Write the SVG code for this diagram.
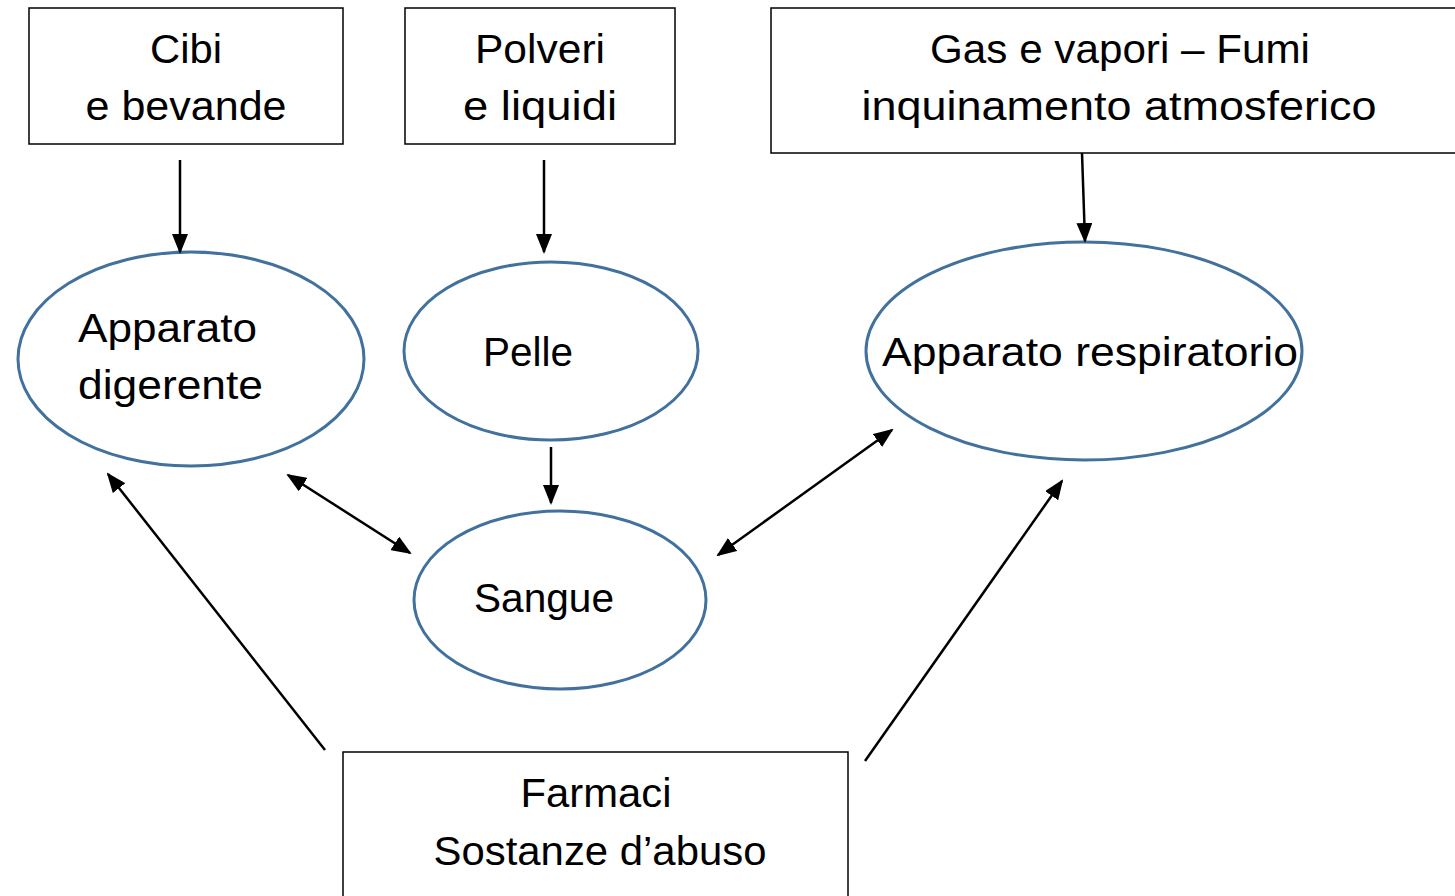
<svg xmlns="http://www.w3.org/2000/svg" width="1455" height="896" viewBox="0 0 1455 896">
<style>
.box{fill:#fff;stroke:#000;stroke-width:1.5}
.ell{fill:#fff;stroke:#41719C;stroke-width:3}
.t{font-family:"Liberation Sans",Arial,sans-serif;font-size:40px;fill:#000}
.c{text-anchor:middle}
.ln{stroke:#000;stroke-width:2.5;fill:none}
</style>
<defs>
<marker id="ah" markerUnits="userSpaceOnUse" markerWidth="20" markerHeight="16" refX="18" refY="8" orient="auto-start-reverse" viewBox="0 0 20 16">
<path d="M0,0 L20,8 L0,16 Z" fill="#000"/>
</marker>
</defs>
<rect width="1455" height="896" fill="#fff"/>
<g id="n-cibi">
<rect class="box" x="29" y="8" width="314" height="136"/>
<text class="t c" x="186" y="63" textLength="72" lengthAdjust="spacingAndGlyphs">Cibi</text>
<text class="t c" x="186" y="120" textLength="201" lengthAdjust="spacingAndGlyphs">e bevande</text>
</g>
<g id="n-polveri">
<rect class="box" x="405" y="8" width="270" height="136"/>
<text class="t c" x="540" y="63" textLength="130" lengthAdjust="spacingAndGlyphs">Polveri</text>
<text class="t c" x="540" y="120" textLength="154" lengthAdjust="spacingAndGlyphs">e liquidi</text>
</g>
<g id="n-gas">
<rect class="box" x="771" y="8" width="690" height="145"/>
<text class="t c" x="1120" y="63" textLength="380" lengthAdjust="spacingAndGlyphs">Gas e vapori – Fumi</text>
<text class="t c" x="1119" y="120" textLength="515" lengthAdjust="spacingAndGlyphs">inquinamento atmosferico</text>
</g>
<g id="n-digerente">
<ellipse class="ell" cx="191" cy="359" rx="173" ry="107"/>
<text class="t" x="78" y="342" textLength="179" lengthAdjust="spacingAndGlyphs">Apparato</text>
<text class="t" x="78" y="399" textLength="185" lengthAdjust="spacingAndGlyphs">digerente</text>
</g>
<g id="n-pelle">
<ellipse class="ell" cx="551" cy="351" rx="147" ry="89"/>
<text class="t" x="483" y="366" textLength="90" lengthAdjust="spacingAndGlyphs">Pelle</text>
</g>
<g id="n-respiratorio">
<ellipse class="ell" cx="1084" cy="351" rx="218" ry="109"/>
<text class="t" x="882" y="366" textLength="416" lengthAdjust="spacingAndGlyphs">Apparato respiratorio</text>
</g>
<g id="n-sangue">
<ellipse class="ell" cx="560" cy="600" rx="146" ry="89"/>
<text class="t" x="474" y="612" textLength="140" lengthAdjust="spacingAndGlyphs">Sangue</text>
</g>
<g id="n-farmaci">
<rect class="box" x="343" y="752" width="505" height="160"/>
<text class="t c" x="596" y="807" textLength="151" lengthAdjust="spacingAndGlyphs">Farmaci</text>
<text class="t c" x="600" y="865" textLength="333" lengthAdjust="spacingAndGlyphs">Sostanze d’abuso</text>
</g>
<g id="connectors">
<line class="ln" x1="180" y1="160" x2="180" y2="252" marker-end="url(#ah)"/>
<line class="ln" x1="544" y1="160" x2="544" y2="252" marker-end="url(#ah)"/>
<line class="ln" x1="1082" y1="153" x2="1085" y2="241" marker-end="url(#ah)"/>
<line class="ln" x1="551" y1="447" x2="551" y2="503" marker-end="url(#ah)"/>
<line class="ln" x1="288" y1="475" x2="410" y2="553" marker-start="url(#ah)" marker-end="url(#ah)"/>
<line class="ln" x1="892" y1="430" x2="718" y2="555" marker-start="url(#ah)" marker-end="url(#ah)"/>
<line class="ln" x1="325" y1="750" x2="108" y2="474" marker-end="url(#ah)"/>
<line class="ln" x1="865" y1="761" x2="1062" y2="481" marker-end="url(#ah)"/>
</g>
</svg>
